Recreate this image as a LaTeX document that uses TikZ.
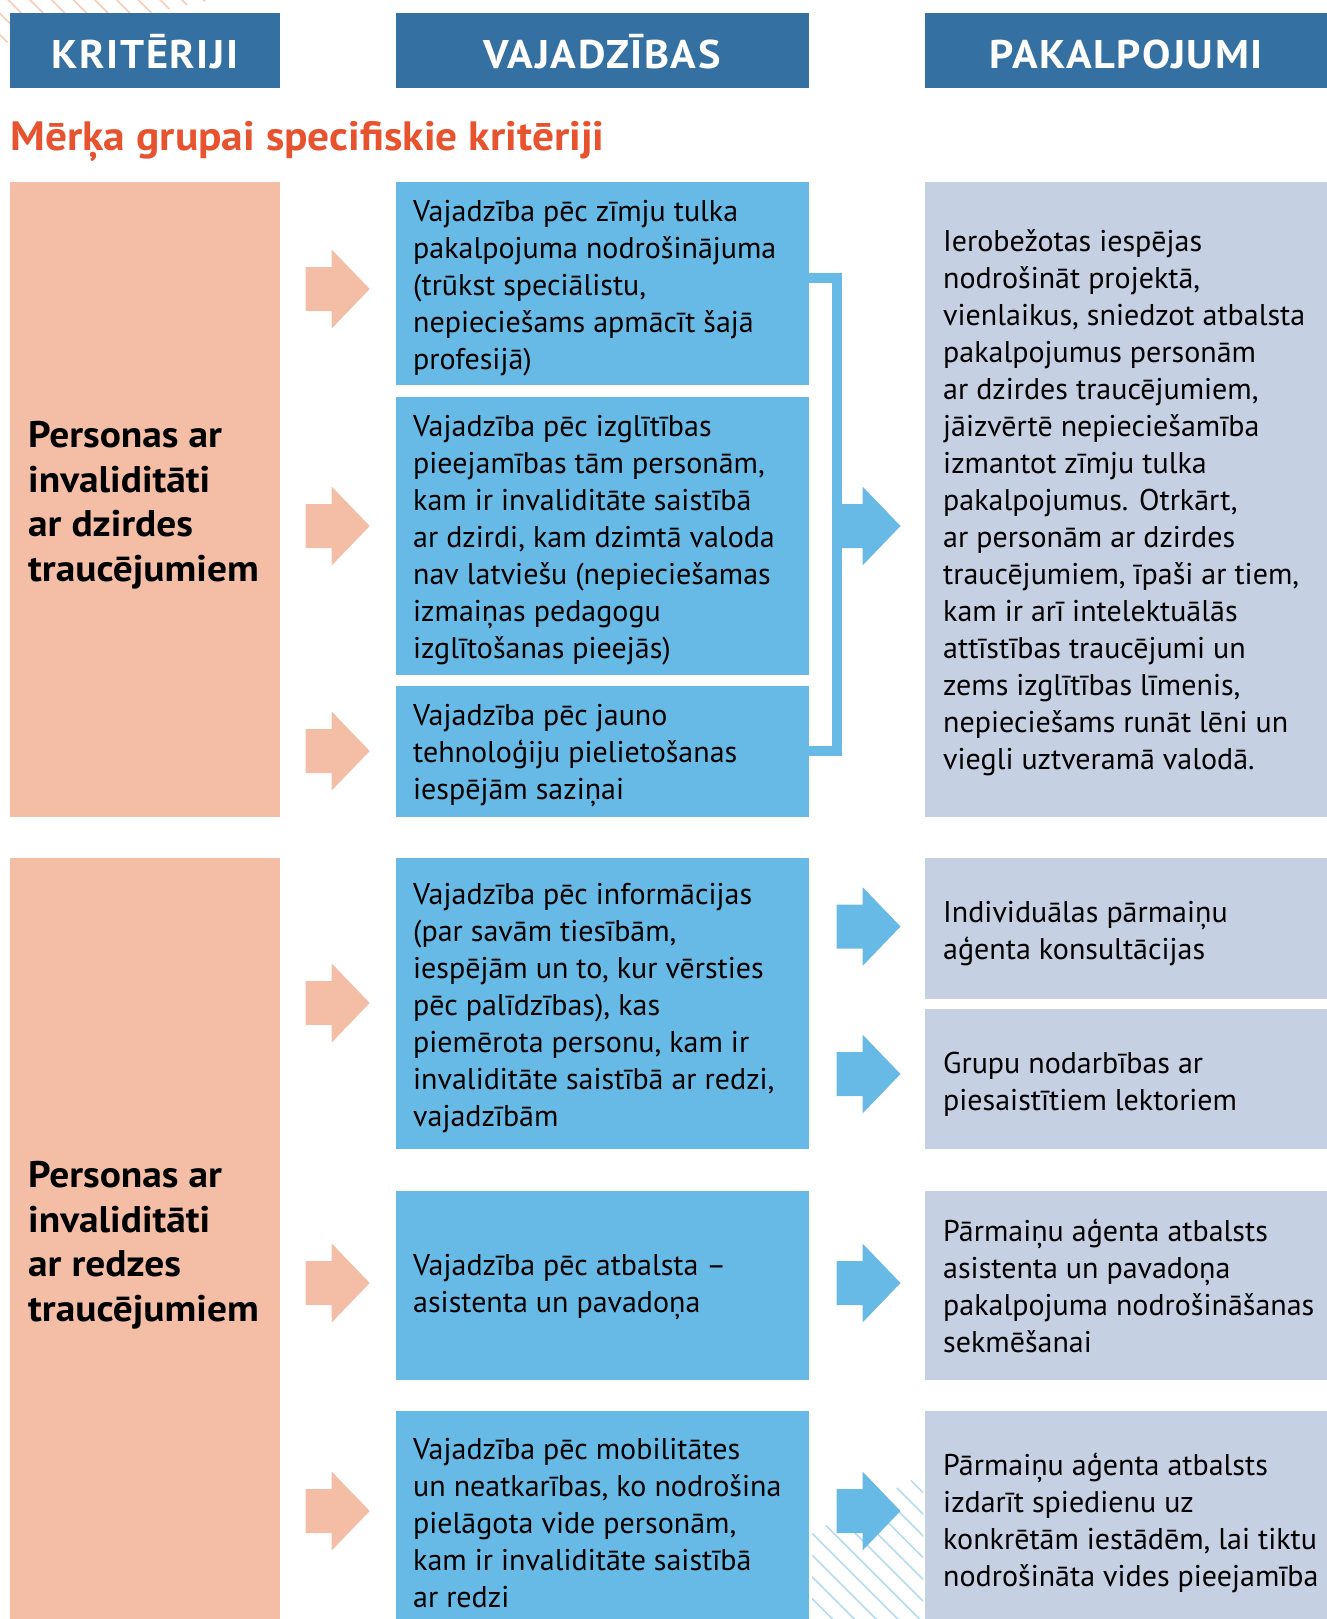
\documentclass[tikz,border=0pt]{standalone}
\usepackage{fontspec}
\setmainfont{PT Sans}
\definecolor{hdr}{HTML}{3470A1}
\definecolor{salm}{HTML}{F4BDA5}
\definecolor{mblue}{HTML}{67BAE6}
\definecolor{rgrey}{HTML}{C5D0E3}
\definecolor{ttl}{HTML}{E8532F}
\definecolor{hatchS}{HTML}{F8CBB6}
\definecolor{hatchB}{HTML}{B3DCF2}
\tikzset{
  panel/.style={inner sep=0, outer sep=0, anchor=north west},
  hdrbox/.style={fill=hdr, inner sep=0, outer sep=0, text=white, text height=35pt, text depth=0pt,
    font=\fontsize{40}{42}\selectfont\bfseries\addfontfeature{LetterSpace=4,FakeStretch=1.06}},
  body/.style={anchor=west, align=left, inner sep=0, text=black,
    font=\fontsize{30}{37}\selectfont},
  crit/.style={anchor=west, align=left, inner sep=0, text=black,
    font=\fontsize{37}{44.5}\selectfont\bfseries\addfontfeature{FakeStretch=1.065}},
  sarrow/.pic={\fill[salm] (0,-22) -- (26,-22) -- (26,-39.5) -- (64,0) -- (26,39.5) -- (26,22) -- (0,22) -- cycle;},
  barrow/.pic={\fill[mblue] (0,-22) -- (26,-22) -- (26,-39.5) -- (64,0) -- (26,39.5) -- (26,22) -- (0,22) -- cycle;},
}
\begin{document}
\begin{tikzpicture}[x=1pt,y=-1pt]
\useasboundingbox (0,0) rectangle (1327,1619);
% hatching
\begin{scope}
\clip (0,0) -- (212,0) -- (0,44) -- cycle;
\foreach \k in {-3,...,9} \draw[hatchS, line width=1.6] ({30+21.7*\k-60},-60) -- ++(160,160);
\end{scope}
\begin{scope}
\clip (812,1533) -- (923,1474) -- (923,1619) -- (812,1619) -- cycle;
\foreach \k in {-8,...,4} \draw[hatchB, line width=1.6] (812,{1533.3+21.7*\k}) -- ++(160,160);
\end{scope}
% headers
\node[hdrbox, minimum width=269.6, minimum height=75] (h1) at (145.1,50.5) {KRITĒRIJI};
\node[hdrbox, minimum width=413.1, minimum height=75] (h2) at (602.05,50.5) {VAJADZĪBAS};
\node[hdrbox, minimum width=401.7, minimum height=75] (h3) at (1126.15,50.5) {PAKALPOJUMI};
\node[anchor=base west, inner sep=0, text=ttl, font=\fontsize{41}{44}\selectfont\bfseries\addfontfeature{FakeStretch=1.06}] (title) at (10.3,150) {Mērķa grupai specifiskie kritēriji};
% left panels
\node[panel, fill=salm, minimum width=269.6, minimum height=635.1] (l1) at (10.3,181.8) {};
\node[panel, fill=salm, minimum width=269.6, minimum height=761] (l2) at (10.3,858.2) {};
\node[crit] (tl1) at (28,505) {Personas ar\\invaliditāti\\ar dzirdes\\traucējumiem};
\node[crit] (tl2) at (28,1245) {Personas ar\\invaliditāti\\ar redzes\\traucējumiem};
% middle panels
\node[panel, fill=mblue, minimum width=413.1, minimum height=203.4] (m1) at (395.5,181.8) {};
\node[panel, fill=mblue, minimum width=413.1, minimum height=278.8] (m2) at (395.5,396.6) {};
\node[panel, fill=mblue, minimum width=413.1, minimum height=131.2] (m3) at (395.5,685.7) {};
\node[panel, fill=mblue, minimum width=413.1, minimum height=291.2] (m4) at (395.5,858.2) {};
\node[panel, fill=mblue, minimum width=413.1, minimum height=189] (m5) at (395.5,1190.7) {};
\node[panel, fill=mblue, minimum width=413.1, minimum height=208.3] (m6) at (395.5,1410.7) {};
\node[body] (tm1) at (413,288) {Vajadzība pēc zīmju tulka\\pakalpojuma nodrošinājuma\\(trūkst speciālistu,\\nepieciešams apmācīt šajā\\profesijā)};
\node[body] (tm2) at (413,540) {Vajadzība pēc izglītības\\pieejamības tām personām,\\kam ir invaliditāte saistībā\\ar dzirdi, kam dzimtā valoda\\nav latviešu (nepieciešamas\\izmaiņas pedagogu\\izglītošanas pieejās)};
\node[body] (tm3) at (413,756) {Vajadzība pēc jauno\\tehnoloģiju pielietošanas\\iespējām saziņai};
\node[body] (tm4) at (413,1008) {Vajadzība pēc informācijas\\(par savām tiesībām,\\iespējām un to, kur vērsties\\pēc palīdzības), kas\\piemērota personu, kam ir\\invaliditāte saistībā ar redzi,\\vajadzībām};
\node[body] (tm5) at (413,1287.5) {Vajadzība pēc atbalsta –\\asistenta un pavadoņa};
\node[body] (tm6) at (413,1523) {Vajadzība pēc mobilitātes\\un neatkarības, ko nodrošina\\pielāgota vide personām,\\kam ir invaliditāte saistībā\\ar redzi};
% right panels
\node[panel, fill=rgrey, minimum width=401.7, minimum height=635.1] (r1) at (925.3,181.8) {};
\node[panel, fill=rgrey, minimum width=401.7, minimum height=140.4] (r2) at (925.3,858.2) {};
\node[panel, fill=rgrey, minimum width=401.7, minimum height=140.5] (r3) at (925.3,1008.9) {};
\node[panel, fill=rgrey, minimum width=401.7, minimum height=189] (r4) at (925.3,1190.7) {};
\node[panel, fill=rgrey, minimum width=401.7, minimum height=208.3] (r5) at (925.3,1410.7) {};
\node[body] (tr1) at (943,503) {Ierobežotas iespējas\\nodrošināt projektā,\\vienlaikus, sniedzot atbalsta\\pakalpojumus personām\\ar dzirdes traucējumiem,\\jāizvērtē nepieciešamība\\izmantot zīmju tulka\\pakalpojumus. Otrkārt,\\ar personām ar dzirdes\\traucējumiem, īpaši ar tiem,\\kam ir arī intelektuālās\\attīstības traucējumi un\\zems izglītības līmenis,\\nepieciešams runāt lēni un\\viegli uztveramā valodā.};
\node[body] (tr2) at (943,933.5) {Individuālas pārmaiņu\\aģenta konsultācijas};
\node[body] (tr3) at (943,1084) {Grupu nodarbības ar\\piesaistītiem lektoriem};
\node[body] (tr4) at (943,1286) {Pārmaiņu aģenta atbalsts\\asistenta un pavadoņa\\pakalpojuma nodrošināšanas\\sekmēšanai};
\node[body] (tr5) at (943,1523) {Pārmaiņu aģenta atbalsts\\izdarīt spiedienu uz\\konkrētām iestādēm, lai tiktu\\nodrošināta vides pieejamība};
% salmon arrows
\foreach \yy in {289,526,751,1003,1283,1511} \pic at (305.7,\yy) {sarrow};
% bracket
\coordinate (bt) at (836.5,278);
\coordinate (bb) at (836.5,751);
\draw[mblue, line width=10] (m1.east |- bt) -- (bt) -- (bb) -- (m3.east |- bb);
\pic at (836.5,526) {barrow};
\foreach \yy in {926.5,1074,1283,1511} \pic at (836.5,\yy) {barrow};
\end{tikzpicture}
\end{document}
